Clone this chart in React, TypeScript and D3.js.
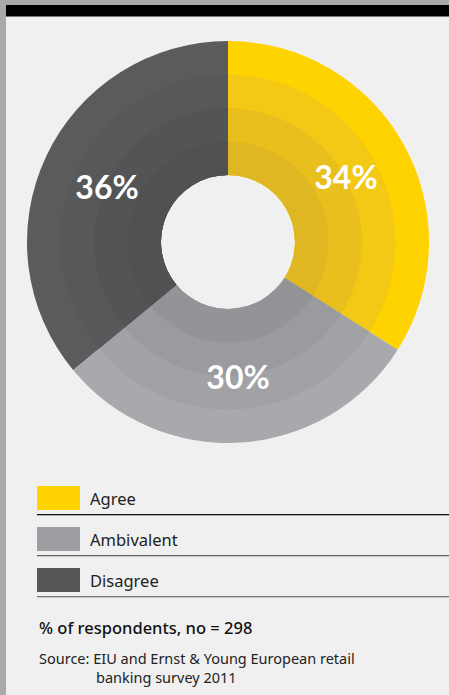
import React from "react";
import * as d3 from "d3";

const categories = ["Agree", "Ambivalent", "Disagree"];
const values = [34, 30, 36];
const labels = ["34%", "30%", "36%"];
// ring shades per category, inner -> outer
const ringColors = [
  ["#dfb723", "#e9bf1d", "#f4c915", "#ffd300"],
  ["#939497", "#9a9b9e", "#a1a2a5", "#a8a9ac"],
  ["#505153", "#535456", "#57585a", "#5a5b5d"],
];
const legendColors = ["#ffd200", "#9d9ea1", "#555658"];
const legendLineColors = ["#111", "#666", "#777"];
const noteText = "% of respondents, no = 298";
const sourceLines = ["Source: EIU and Ernst & Young European retail", "banking survey 2011"];

const W = 449, H = 695;
const cx = 228, cy = 242;
const rInner = 67, rOuter = 201;

export default function App() {
  const pie = d3.pie<number>().sort(null).value((d) => d)(values);
  const radii = d3.range(5).map((i) => rInner + ((rOuter - rInner) * i) / 4);
  const labelPos: [number, number][] = [
    [118, -66],
    [10, 134],
    [-121, -56],
  ];
  return (
    <svg width={W} height={H} style={{ position: "absolute", left: 0, top: 0, display: "block" }}
      fontFamily="'Noto Sans', 'Open Sans', sans-serif">
      <rect x={0} y={0} width={W} height={H} fill="#a9a9a9" />
      <rect x={6} y={5} width={W - 6} height={H - 5} fill="#f0f0f0" />
      <rect x={6} y={5} width={W - 6} height={11} fill="#000" />
      <rect x={6} y={16} width={W - 6} height={1} fill="#777" />
      <g transform={`translate(${cx},${cy})`}>
        {pie.map((p, i) =>
          [3, 2, 1, 0].map((j) => {
            const c = ringColors[i][j];
            const path = d3.arc<any>()
              .innerRadius(rInner)
              .outerRadius(radii[j + 1])
              .startAngle(p.startAngle)
              .endAngle(p.endAngle)({} as any);
            return <path key={`${i}-${j}`} d={path || ""} fill={c} />;
          })
        )}
        {pie.map((p, i) => {
          const [x, y] = labelPos[i];
          return (
            <text key={i} x={x} y={y} textAnchor="middle" dominantBaseline="central"
              fill="#fff" fontFamily="Lato, 'Open Sans', sans-serif" fontWeight={700} fontSize={32}>
              {labels[i]}
            </text>
          );
        })}
      </g>
      {categories.map((c, i) => {
        const y0 = 486 + i * 41;
        return (
          <g key={c}>
            <rect x={37} y={y0} width={43} height={24} fill={legendColors[i]} />
            <text x={90} y={y0 + 19} fontSize={16.5} fill="#222">{c}</text>
            <rect x={37} y={y0 + 28} width={W - 37} height={1.3} fill={legendLineColors[i]} />
          </g>
        );
      })}
      <text x={39} y={634} fontSize={16.5} fontWeight={500} fill="#111">{noteText}</text>
      <text x={39} y={664} fontSize={14.5} fill="#222">{sourceLines[0]}</text>
      <text x={96} y={683} fontSize={14.5} fill="#222">{sourceLines[1]}</text>
    </svg>
  );
}
